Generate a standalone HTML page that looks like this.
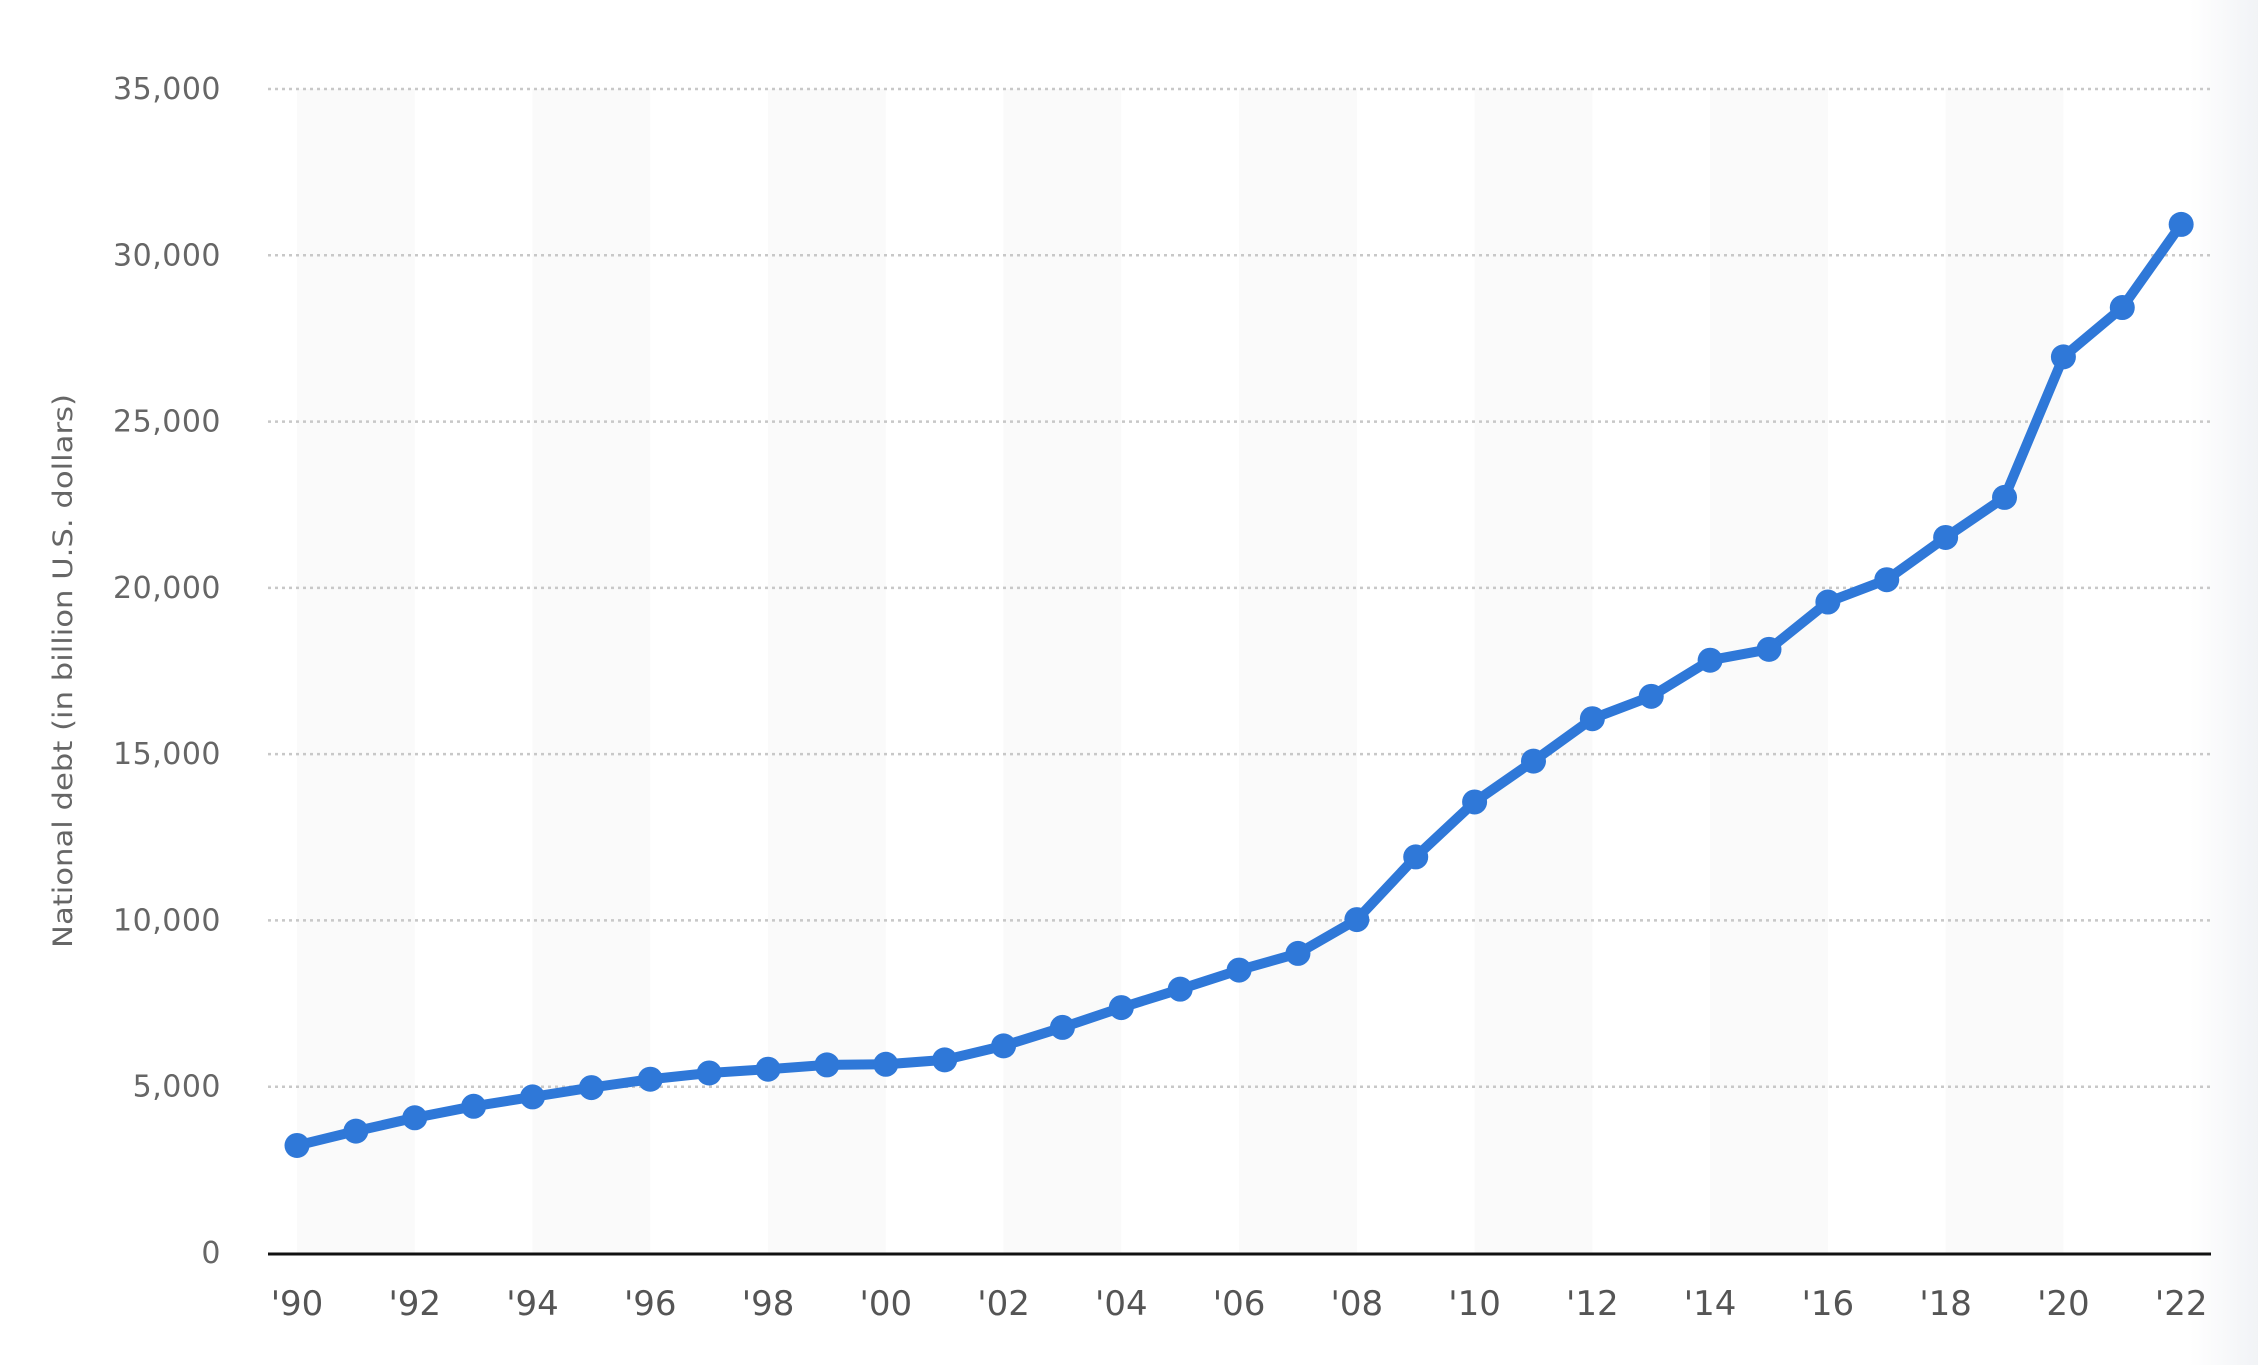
<!DOCTYPE html>
<html><head><meta charset="utf-8"><style>
html,body{margin:0;padding:0;background:#fff;}
body{width:2258px;height:1365px;overflow:hidden;position:relative;font-family:"DejaVu Sans",sans-serif;}
</style></head><body>
<svg id="s" width="2258" height="1365" xmlns="http://www.w3.org/2000/svg" style="position:absolute;left:0;top:0">
<defs><linearGradient id="g" x1="0" x2="1" y1="0" y2="0"><stop offset="0" stop-color="#fff"/><stop offset="1" stop-color="#f1f3f6"/></linearGradient></defs>
<rect x="2190" y="0" width="68" height="1365" fill="url(#g)"/>
<g id="bands"></g><g id="grid"></g>
<line x1="268" x2="2211" y1="1254" y2="1254" stroke="#111" stroke-width="3"/>
<text transform="translate(72,671) rotate(-90)" text-anchor="middle" font-size="27" fill="#666" textLength="554" lengthAdjust="spacingAndGlyphs">National debt (in billion U.S. dollars)</text>
<g id="lab"></g>
<polyline id="ln" fill="none" stroke="#2f78d8" stroke-width="10" stroke-linejoin="round"/>
<g id="dots" fill="#2f78d8"></g>
</svg>
<script>
var d=[3233,3665,4065,4411,4693,4974,5225,5413,5526,5656,5674,5807,6228,6783,7379,7933,8507,9008,10025,11910,13562,14790,16066,16738,17824,18151,19573,20245,21516,22719,26945,28429,30929];
var X=function(i){return 297+i*58.88},Y=function(v){return 1253-v/35000*1164};
var h='',g='',l='',pts=[],c='';
for(var b=0;b<8;b++){var x0=X(b*4);h+='<rect x="'+x0+'" y="89" width="'+(58.88*2)+'" height="1164" fill="#fafafa"/>';}
for(var k=1;k<=7;k++){var y=Y(k*5000);g+='<line x1="268" x2="2211" y1="'+y+'" y2="'+y+'" stroke="#c8c8c8" stroke-width="2.5" stroke-dasharray="3,4"/>';}
for(var k=0;k<=7;k++){l+='<text x="221" y="'+(Y(k*5000)+10)+'" text-anchor="end" font-size="30" letter-spacing="0.5" fill="#666">'+(k==0?'0':(k*5)+',000')+'</text>';}
for(var i=0;i<=32;i+=2){l+='<text x="'+X(i)+'" y="1315" text-anchor="middle" font-size="34" fill="#555">\''+String((90+i)%100).padStart(2,'0')+'</text>';}
for(var i=0;i<d.length;i++){pts.push(X(i)+','+Y(d[i]));c+='<circle cx="'+X(i)+'" cy="'+Y(d[i])+'" r="12.5"/>';}
document.getElementById('bands').innerHTML=h;document.getElementById('grid').innerHTML=g;
document.getElementById('lab').innerHTML=l;document.getElementById('dots').innerHTML=c;
document.getElementById('ln').setAttribute('points',pts.join(' '));
</script>
</body></html>
